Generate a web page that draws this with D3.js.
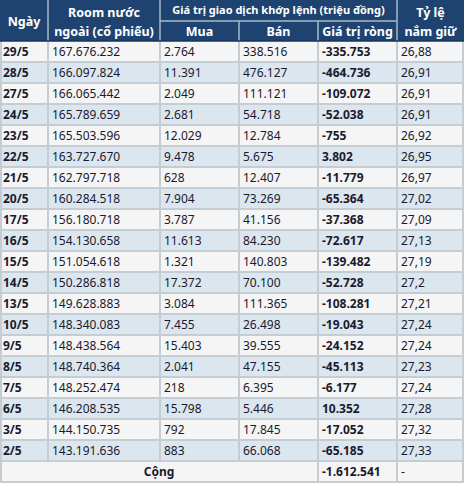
<!DOCTYPE html>
<html><head><meta charset="utf-8">
<script src="https://cdn.jsdelivr.net/npm/d3@7"></script>
<style>html,body{margin:0;padding:0;background:#fff;}svg{display:block;}</style>
</head><body><svg id="c" width="464" height="483"></svg>
<script>
const dates = ["29/5","28/5","27/5","24/5","23/5","22/5","21/5","20/5","17/5","16/5","15/5","14/5","13/5","10/5","9/5","8/5","7/5","6/5","3/5","2/5"];
const room = [167676232,166097824,166065442,165789659,165503596,163727670,162797718,160284518,156180718,154130658,151054618,150286818,149628883,148340083,148438564,148740364,148252474,146208535,144150735,143191636];
const mua = [2764,11391,2049,2681,12029,9478,628,7904,3787,11613,1321,17372,3084,7455,15403,2041,218,15798,792,883];
const ban = [338516,476127,111121,54718,12784,5675,12407,73269,41156,84230,140803,70100,111365,26498,39555,47155,6395,5446,17845,66068];
const rong = [-335753,-464736,-109072,-52038,-755,3802,-11779,-65364,-37368,-72617,-139482,-52728,-108281,-19043,-24152,-45113,-6177,10352,-17052,-65185];
const tyle = [26.88,26.91,26.91,26.91,26.92,26.95,26.97,27.02,27.09,27.13,27.19,27.2,27.21,27.24,27.24,27.23,27.24,27.28,27.32,27.33];
const totalLabel = "Cộng";
const totalRong = -1612541;
const headers = ["Ngày", ["Room nước","ngoài (cổ phiếu)"], "Giá trị giao dịch khớp lệnh (triệu đồng)", "Mua", "Bán", "Giá trị ròng", ["Tỷ lệ","nắm giữ"]];

const vn = d3.formatLocale({decimal:",", thousands:".", grouping:[3], currency:["",""], minus:"-"});
const fInt = vn.format(",d");
const fDec = vn.format(",");

const W = 464, H = 483;
const svg = d3.select("#c");
const font = "'Noto Sans', sans-serif";
const hdr = "#1f4370", rowA = "#f5f5f5", rowB = "#dce6ee", line = "#c4ccd4";

const edges = [0,48,160,239,318,397,464];
const headMid = 21, headBot = 41;
const y = d3.scaleBand().domain(dates).range([41, 461]);
const totalY = 461, totalH = 21;

svg.append("rect").attr("x",0).attr("y",0).attr("width",W).attr("height",headBot).attr("fill",hdr);

const rows = svg.append("g");
dates.forEach((d,i)=>{
  rows.append("rect").attr("x",0).attr("y",y(d)).attr("width",W).attr("height",y.bandwidth())
    .attr("fill", i%2===0 ? rowA : rowB);
});
svg.append("rect").attr("x",0).attr("y",totalY).attr("width",W).attr("height",H-totalY).attr("fill",rowA);

const g = svg.append("g").attr("stroke",line).attr("stroke-width",2);
const hl = svg.append("g").attr("stroke","#a9b8c9").attr("stroke-width",1.5);
[48,160,397].forEach(x=>hl.append("line").attr("x1",x).attr("x2",x).attr("y1",0).attr("y2",headBot));
[239,318].forEach(x=>hl.append("line").attr("x1",x).attr("x2",x).attr("y1",headMid).attr("y2",headBot));
hl.append("line").attr("x1",160).attr("x2",397).attr("y1",headMid).attr("y2",headMid);

edges.slice(1,-1).forEach(x=>g.append("line").attr("x1",x).attr("x2",x).attr("y1",headBot).attr("y2",totalY));
[318,397].forEach(x=>g.append("line").attr("x1",x).attr("x2",x).attr("y1",totalY).attr("y2",H));
dates.forEach(d=>g.append("line").attr("x1",0).attr("x2",W).attr("y1",y(d)+y.bandwidth()).attr("y2",y(d)+y.bandwidth()));
g.append("line").attr("x1",0).attr("x2",W).attr("y1",H-1).attr("y2",H-1);
g.append("line").attr("x1",1).attr("x2",1).attr("y1",headBot).attr("y2",H);
g.append("line").attr("x1",W-1).attr("x2",W-1).attr("y1",headBot).attr("y2",H);
svg.append("line").attr("x1",0).attr("x2",W).attr("y1",headBot).attr("y2",headBot).attr("stroke","#18355c").attr("stroke-width",1.5);

const ht = svg.append("g").attr("fill","#fff").attr("font-family",font).attr("font-weight","bold").attr("text-anchor","middle");
function htext(lines, cx, cy, size){
  const arr = Array.isArray(lines)?lines:[lines];
  const lh = 19;
  arr.forEach((t,k)=>{
    ht.append("text").attr("x",cx).attr("y",cy+(k-(arr.length-1)/2)*lh).attr("dy","0.35em")
      .attr("font-size",size).text(t);
  });
}
htext(headers[0], 24, 22, 12.5);
htext(headers[1], 104, 22, 12.5);
htext(headers[2], 278.5, 10.5, 11);
htext(headers[3], 199.5, 32, 12.5);
htext(headers[4], 278.5, 32, 12.5);
htext(headers[5], 357.5, 32, 12.5);
htext(headers[6], 430.5, 22, 12.5);

const bt = svg.append("g").attr("font-family",font).attr("font-size",12).attr("fill","#1a1a2e");
const cols = [
  {vals:dates, fmt:d=>d, bold:true},
  {vals:room, fmt:fInt},
  {vals:mua, fmt:fInt},
  {vals:ban, fmt:fInt},
  {vals:rong, fmt:fInt, bold:true},
  {vals:tyle, fmt:fDec}
];
cols.forEach((c,ci)=>{
  c.vals.forEach((v,i)=>{
    bt.append("text").attr("x",edges[ci]+(ci===0?3:4)).attr("y",y(dates[i])+y.bandwidth()/2).attr("dy","0.36em")
      .attr("font-weight",c.bold?"bold":"normal").text(c.fmt(v));
  });
});
bt.append("text").attr("x",159).attr("y",totalY+totalH/2).attr("dy","0.36em").attr("text-anchor","middle").attr("font-weight","bold").text(totalLabel);
bt.append("text").attr("x",322).attr("y",totalY+totalH/2).attr("dy","0.36em").attr("font-weight","bold").text(fInt(totalRong));
bt.append("text").attr("x",401).attr("y",totalY+totalH/2).attr("dy","0.36em").text("-");
</script></body></html>
